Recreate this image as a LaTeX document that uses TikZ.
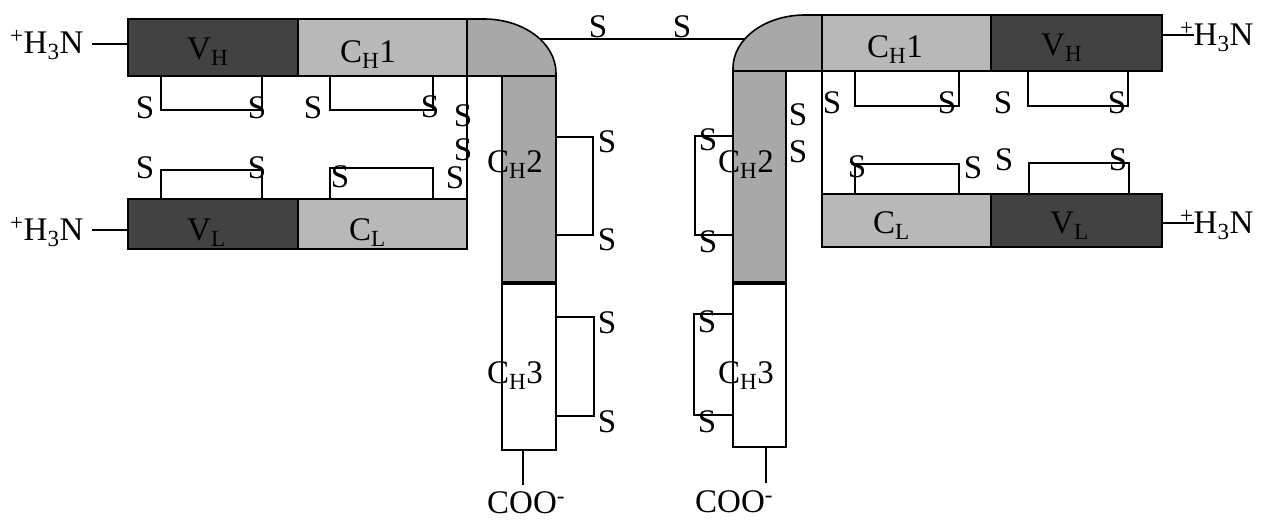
\documentclass[tikz,border=0pt]{standalone}
\usepackage{fontspec}
\setmainfont{Liberation Serif}
\definecolor{vcol}{gray}{0.26}
\definecolor{conecol}{gray}{0.72}
\definecolor{ctwocol}{gray}{0.66}
\tikzset{
  dom/.style={draw=black, line width=1.6pt, rectangle, inner sep=0pt, outer sep=0pt},
  vdom/.style={dom, fill=vcol},
  cdom/.style={dom, fill=conecol},
  hdom/.style={dom, fill=ctwocol},
  wdom/.style={dom, fill=white},
  sulf/.style={inner sep=0pt, font=\fontsize{33}{40}\selectfont},
  dlabel/.style={inner sep=0pt, anchor=base west, font=\fontsize{33}{40}\selectfont},
  bond/.style={line width=1.3pt},
}
\begin{document}
\begin{tikzpicture}[x=1pt,y=-1pt]
\useasboundingbox (0,0) rectangle (1268,520);

% hinge disulfide between heavy chains (behind the corner pieces)
\coordinate (hingeL) at (520,39);
\coordinate (hingeR) at (760,39);
\draw[bond] (hingeL) -- (hingeR);

% ---------- left molecule half ----------
\node[vdom, minimum width=170pt, minimum height=57pt] (VHl) at (213,47.5) {};
\node[cdom, minimum width=169pt, minimum height=57pt] (CHonel) at (382.5,47.5) {};
\path[draw=black, line width=1.6pt, fill=ctwocol] (467,76) -- (467,19) -- (484,19)
  arc[start angle=90, end angle=0, x radius=72pt, y radius=54pt] -- (556,76) -- cycle;
\node[hdom, minimum width=54pt, minimum height=207pt] (CHtwol) at (529,179.5) {};
\node[wdom, minimum width=54pt, minimum height=167pt] (CHthreel) at (529,366.5) {};
\draw[line width=3.5pt] (CHtwol.south west) -- (CHtwol.south east);
\node[vdom, minimum width=170pt, minimum height=50pt] (VLl) at (213,224) {};
\node[cdom, minimum width=169pt, minimum height=50pt] (CLl) at (382.5,224) {};

% ---------- right molecule half ----------
\path[draw=black, line width=1.6pt, fill=ctwocol] (822,71) -- (822,15) -- (805,15)
  arc[start angle=90, end angle=180, x radius=72pt, y radius=53pt] -- (733,71) -- cycle;
\node[cdom, minimum width=169pt, minimum height=56pt] (CHoner) at (906.5,43) {};
\node[vdom, minimum width=171pt, minimum height=56pt] (VHr) at (1076.5,43) {};
\node[hdom, minimum width=53pt, minimum height=212pt] (CHtwor) at (759.5,177) {};
\node[wdom, minimum width=53pt, minimum height=164pt] (CHthreer) at (759.5,365) {};
\draw[line width=3.5pt] (CHtwor.south west) -- (CHtwor.south east);
\node[cdom, minimum width=169pt, minimum height=53pt] (CLr) at (906.5,220.5) {};
\node[vdom, minimum width=171pt, minimum height=53pt] (VLr) at (1076.5,220.5) {};

% ---------- disulfide bridges, left ----------
\draw[bond] (161,76) -- (161,110) -- (262,110) -- (262,76);
\draw[bond] (330,76) -- (330,110) -- (433,110) -- (433,76);
\draw[bond] (467,76) -- (467,199);
\draw[bond] (161,199) -- (161,170) -- (262,170) -- (262,199);
\draw[bond] (330,199) -- (330,168) -- (433,168) -- (433,199);
\draw[bond] (556,137) -- (593,137) -- (593,235) -- (556,235);
\draw[bond] (556,317) -- (594,317) -- (594,416) -- (556,416);

% ---------- disulfide bridges, right ----------
\draw[bond] (733,136) -- (695,136) -- (695,235) -- (733,235);
\draw[bond] (733,314) -- (694,314) -- (694,415) -- (733,415);
\draw[bond] (822,71) -- (822,194);
\draw[bond] (855,71) -- (855,106) -- (959,106) -- (959,71);
\draw[bond] (1028,71) -- (1028,106) -- (1128,106) -- (1128,71);
\draw[bond] (855,194) -- (855,164) -- (959,164) -- (959,194);
\draw[bond] (1029,194) -- (1029,163) -- (1129,163) -- (1129,194);

% ---------- termini ----------
\node[dlabel] (NtHl) at (10,53) {\textsuperscript{+}H\textsubscript{3}N};
\node[dlabel] (NtLl) at (10,240) {\textsuperscript{+}H\textsubscript{3}N};
\node[dlabel] (NtHr) at (1180,45) {\textsuperscript{+}H\textsubscript{3}N};
\node[dlabel] (NtLr) at (1180,233) {\textsuperscript{+}H\textsubscript{3}N};
\coordinate (nHl) at (92,44);
\coordinate (nLl) at (92,230);
\coordinate (nHr) at (1194,35);
\coordinate (nLr) at (1194,223);
\draw[bond] (nHl) -- (nHl -| VHl.west);
\draw[bond] (nLl) -- (nLl -| VLl.west);
\draw[bond] (nHr) -- (nHr -| VHr.east);
\draw[bond] (nLr) -- (nLr -| VLr.east);
\node[dlabel] (Cl) at (487,513) {COO\textsuperscript{-}};
\node[dlabel] (Cr) at (695,512) {COO\textsuperscript{-}};
\coordinate (cl) at (523,485);
\coordinate (cr) at (766,483);
\draw[bond] (cl |- CHthreel.south) -- (cl);
\draw[bond] (cr |- CHthreer.south) -- (cr);

% ---------- domain labels ----------
\node[dlabel] (tVHl) at (187,59) {V\textsubscript{H}};
\node[dlabel] (tCHonel) at (340,62) {C\textsubscript{H}1};
\node[dlabel] (tVLl) at (187,240) {V\textsubscript{L}};
\node[dlabel] (tCLl) at (349,240) {C\textsubscript{L}};
\node[dlabel] (tCHtwol) at (487,172) {C\textsubscript{H}2};
\node[dlabel] (tCHthreel) at (487,383) {C\textsubscript{H}3};
\node[dlabel] (tCHoner) at (867,57) {C\textsubscript{H}1};
\node[dlabel] (tVHr) at (1041,55) {V\textsubscript{H}};
\node[dlabel] (tCLr) at (873,233) {C\textsubscript{L}};
\node[dlabel] (tVLr) at (1050,233) {V\textsubscript{L}};
\node[dlabel] (tCHtwor) at (718,172) {C\textsubscript{H}2};
\node[dlabel] (tCHthreer) at (718,383) {C\textsubscript{H}3};

% ---------- S labels ----------
\node[sulf] (s1) at (598,27) {S};
\node[sulf] (s2) at (682,27) {S};
\node[sulf] (s3) at (145,108) {S};
\node[sulf] (s4) at (257,108) {S};
\node[sulf] (s5) at (313,108) {S};
\node[sulf] (s6) at (430,107) {S};
\node[sulf] (s7) at (463,116) {S};
\node[sulf] (s8) at (463,150) {S};
\node[sulf] (s9) at (145,168) {S};
\node[sulf] (s10) at (257,168) {S};
\node[sulf] (s11) at (340,177) {S};
\node[sulf] (s12) at (455,178) {S};
\node[sulf] (s13) at (607,142) {S};
\node[sulf] (s14) at (607,240) {S};
\node[sulf] (s15) at (607,323) {S};
\node[sulf] (s16) at (607,422) {S};
\node[sulf] (s17) at (708,140) {S};
\node[sulf] (s18) at (708,242) {S};
\node[sulf] (s19) at (707,322) {S};
\node[sulf] (s20) at (707,422) {S};
\node[sulf] (s21) at (798,115) {S};
\node[sulf] (s22) at (798,152) {S};
\node[sulf] (s23) at (832,103) {S};
\node[sulf] (s24) at (947,103) {S};
\node[sulf] (s25) at (1003,103) {S};
\node[sulf] (s26) at (1117,103) {S};
\node[sulf] (s27) at (857,167) {S};
\node[sulf] (s28) at (973,168) {S};
\node[sulf] (s29) at (1004,160) {S};
\node[sulf] (s30) at (1118,160) {S};
\end{tikzpicture}
\end{document}
